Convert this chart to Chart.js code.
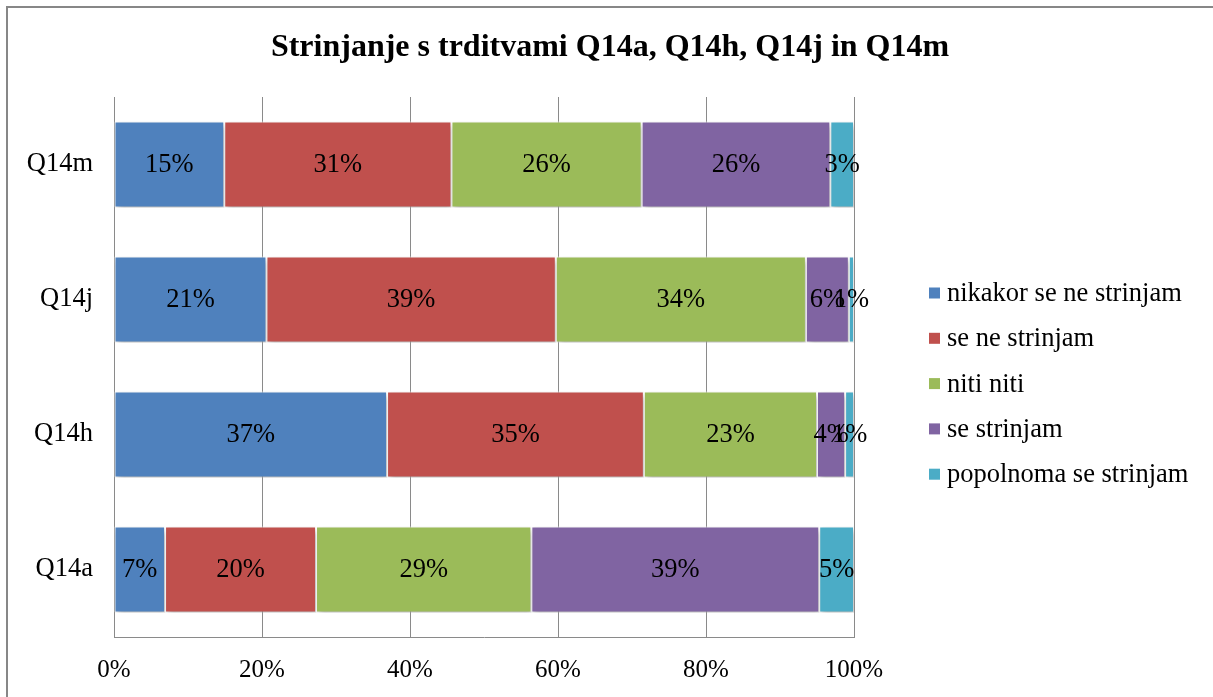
<!DOCTYPE html>
<html>
<head>
<meta charset="utf-8">
<script src="https://cdn.jsdelivr.net/npm/chart.js@4"></script>
<style>
html,body{margin:0;padding:0;background:#fff;overflow:hidden}
#wrap{width:1213px;height:697px;position:relative}
</style>
</head>
<body>
<div id="wrap"><canvas id="c" width="1213" height="697"></canvas></div>
<script>
const titleText = 'Strinjanje s trditvami Q14a, Q14h, Q14j in Q14m';
const categories = ['Q14m', 'Q14j', 'Q14h', 'Q14a'];
const seriesNames = ['nikakor se ne strinjam', 'se ne strinjam', 'niti niti', 'se strinjam', 'popolnoma se strinjam'];
const nikakor = [14.9, 20.6, 36.9, 6.9];
const seNe = [30.7, 39.1, 34.7, 20.4];
const nitiNiti = [25.7, 33.8, 23.4, 29.1];
const seStrinjam = [25.5, 5.8, 3.8, 38.9];
const popolnoma = [3.2, 0.7, 1.2, 4.7];
const xTickLabels = ['0%', '20%', '40%', '60%', '80%', '100%'];

const colors = ['#4F81BD', '#C0504D', '#9BBB59', '#8064A2', '#4BACC6'];
const seriesValues = [nikakor, seNe, nitiNiti, seStrinjam, popolnoma];
const FONT = "'Liberation Serif', 'Times New Roman', serif";

const decor = {
  id: 'decor',
  beforeDraw(chart) {
    const ctx = chart.ctx;
    ctx.save();
    ctx.strokeStyle = '#878787';
    ctx.lineWidth = 2;
    ctx.strokeRect(7, 7, 1400, 900);
    ctx.restore();
  },
  beforeDatasetsDraw(chart) {
    const ctx = chart.ctx;
    ctx.save();
    ctx.shadowColor = 'rgba(0,0,0,0.30)';
    ctx.shadowBlur = 6;
    ctx.shadowOffsetX = 2;
    ctx.shadowOffsetY = 3;
  },
  afterDatasetsDraw(chart) {
    const ctx = chart.ctx;
    ctx.restore();
    ctx.save();
    ctx.font = '26.5px ' + FONT;
    ctx.fillStyle = '#000';
    ctx.textAlign = 'center';
    ctx.textBaseline = 'middle';
    chart.data.datasets.forEach((ds, di) => {
      const meta = chart.getDatasetMeta(di);
      meta.data.forEach((el, i) => {
        const v = ds.data[i];
        const cx = (el.x + el.base) / 2;
        ctx.fillText(Math.round(v) + '%', cx, el.y + 1);
      });
    });
    ctx.restore();
  },
  afterDraw(chart) {
    const ctx = chart.ctx;
    ctx.save();
    // title
    ctx.font = 'bold 32px ' + FONT;
    ctx.fillStyle = '#000';
    ctx.textAlign = 'center';
    ctx.textBaseline = 'middle';
    ctx.fillText(titleText, 610, 48);
    // legend
    ctx.font = '26.5px ' + FONT;
    ctx.textAlign = 'left';
    chart.data.datasets.forEach((ds, i) => {
      const y = 293 + i * 45.3;
      ctx.fillStyle = ds.backgroundColor;
      ctx.fillRect(929, y - 5.5, 11, 11);
      ctx.fillStyle = '#000';
      ctx.fillText(ds.label, 947, y + 1);
    });
    ctx.restore();
  }
};

new Chart(document.getElementById('c'), {
  type: 'bar',
  data: {
    labels: categories,
    datasets: seriesNames.map((name, i) => ({
      label: name,
      data: seriesValues[i],
      backgroundColor: colors[i],
      borderColor: '#ffffff',
      borderWidth: 1,
      borderSkipped: false,
      barPercentage: 1,
      categoryPercentage: 86 / 135
    }))
  },
  options: {
    indexAxis: 'y',
    responsive: false,
    animation: false,
    devicePixelRatio: 1,
    layout: { padding: { left: 0, right: 1213 - 854, top: 97, bottom: 0 } },
    plugins: { legend: { display: false }, title: { display: false }, tooltip: { enabled: false } },
    scales: {
      x: {
        stacked: true,
        min: 0,
        max: 100,
        afterFit(scale) { scale.height = 60; },
        ticks: {
          stepSize: 20,
          color: '#000',
          padding: 18,
          font: { family: FONT, size: 25 },
          callback: (v, idx) => xTickLabels[idx]
        },
        grid: { color: '#8a8a8a', lineWidth: 1, drawTicks: false },
        border: { display: true, color: '#8a8a8a', width: 1 }
      },
      y: {
        stacked: true,
        afterFit(scale) { scale.width = 114; },
        ticks: {
          color: '#000',
          padding: 21,
          font: { family: FONT, size: 26.5 }
        },
        grid: { display: false, drawTicks: false },
        border: { display: true, color: '#8a8a8a', width: 1 }
      }
    }
  },
  plugins: [decor]
});
</script>
</body>
</html>
